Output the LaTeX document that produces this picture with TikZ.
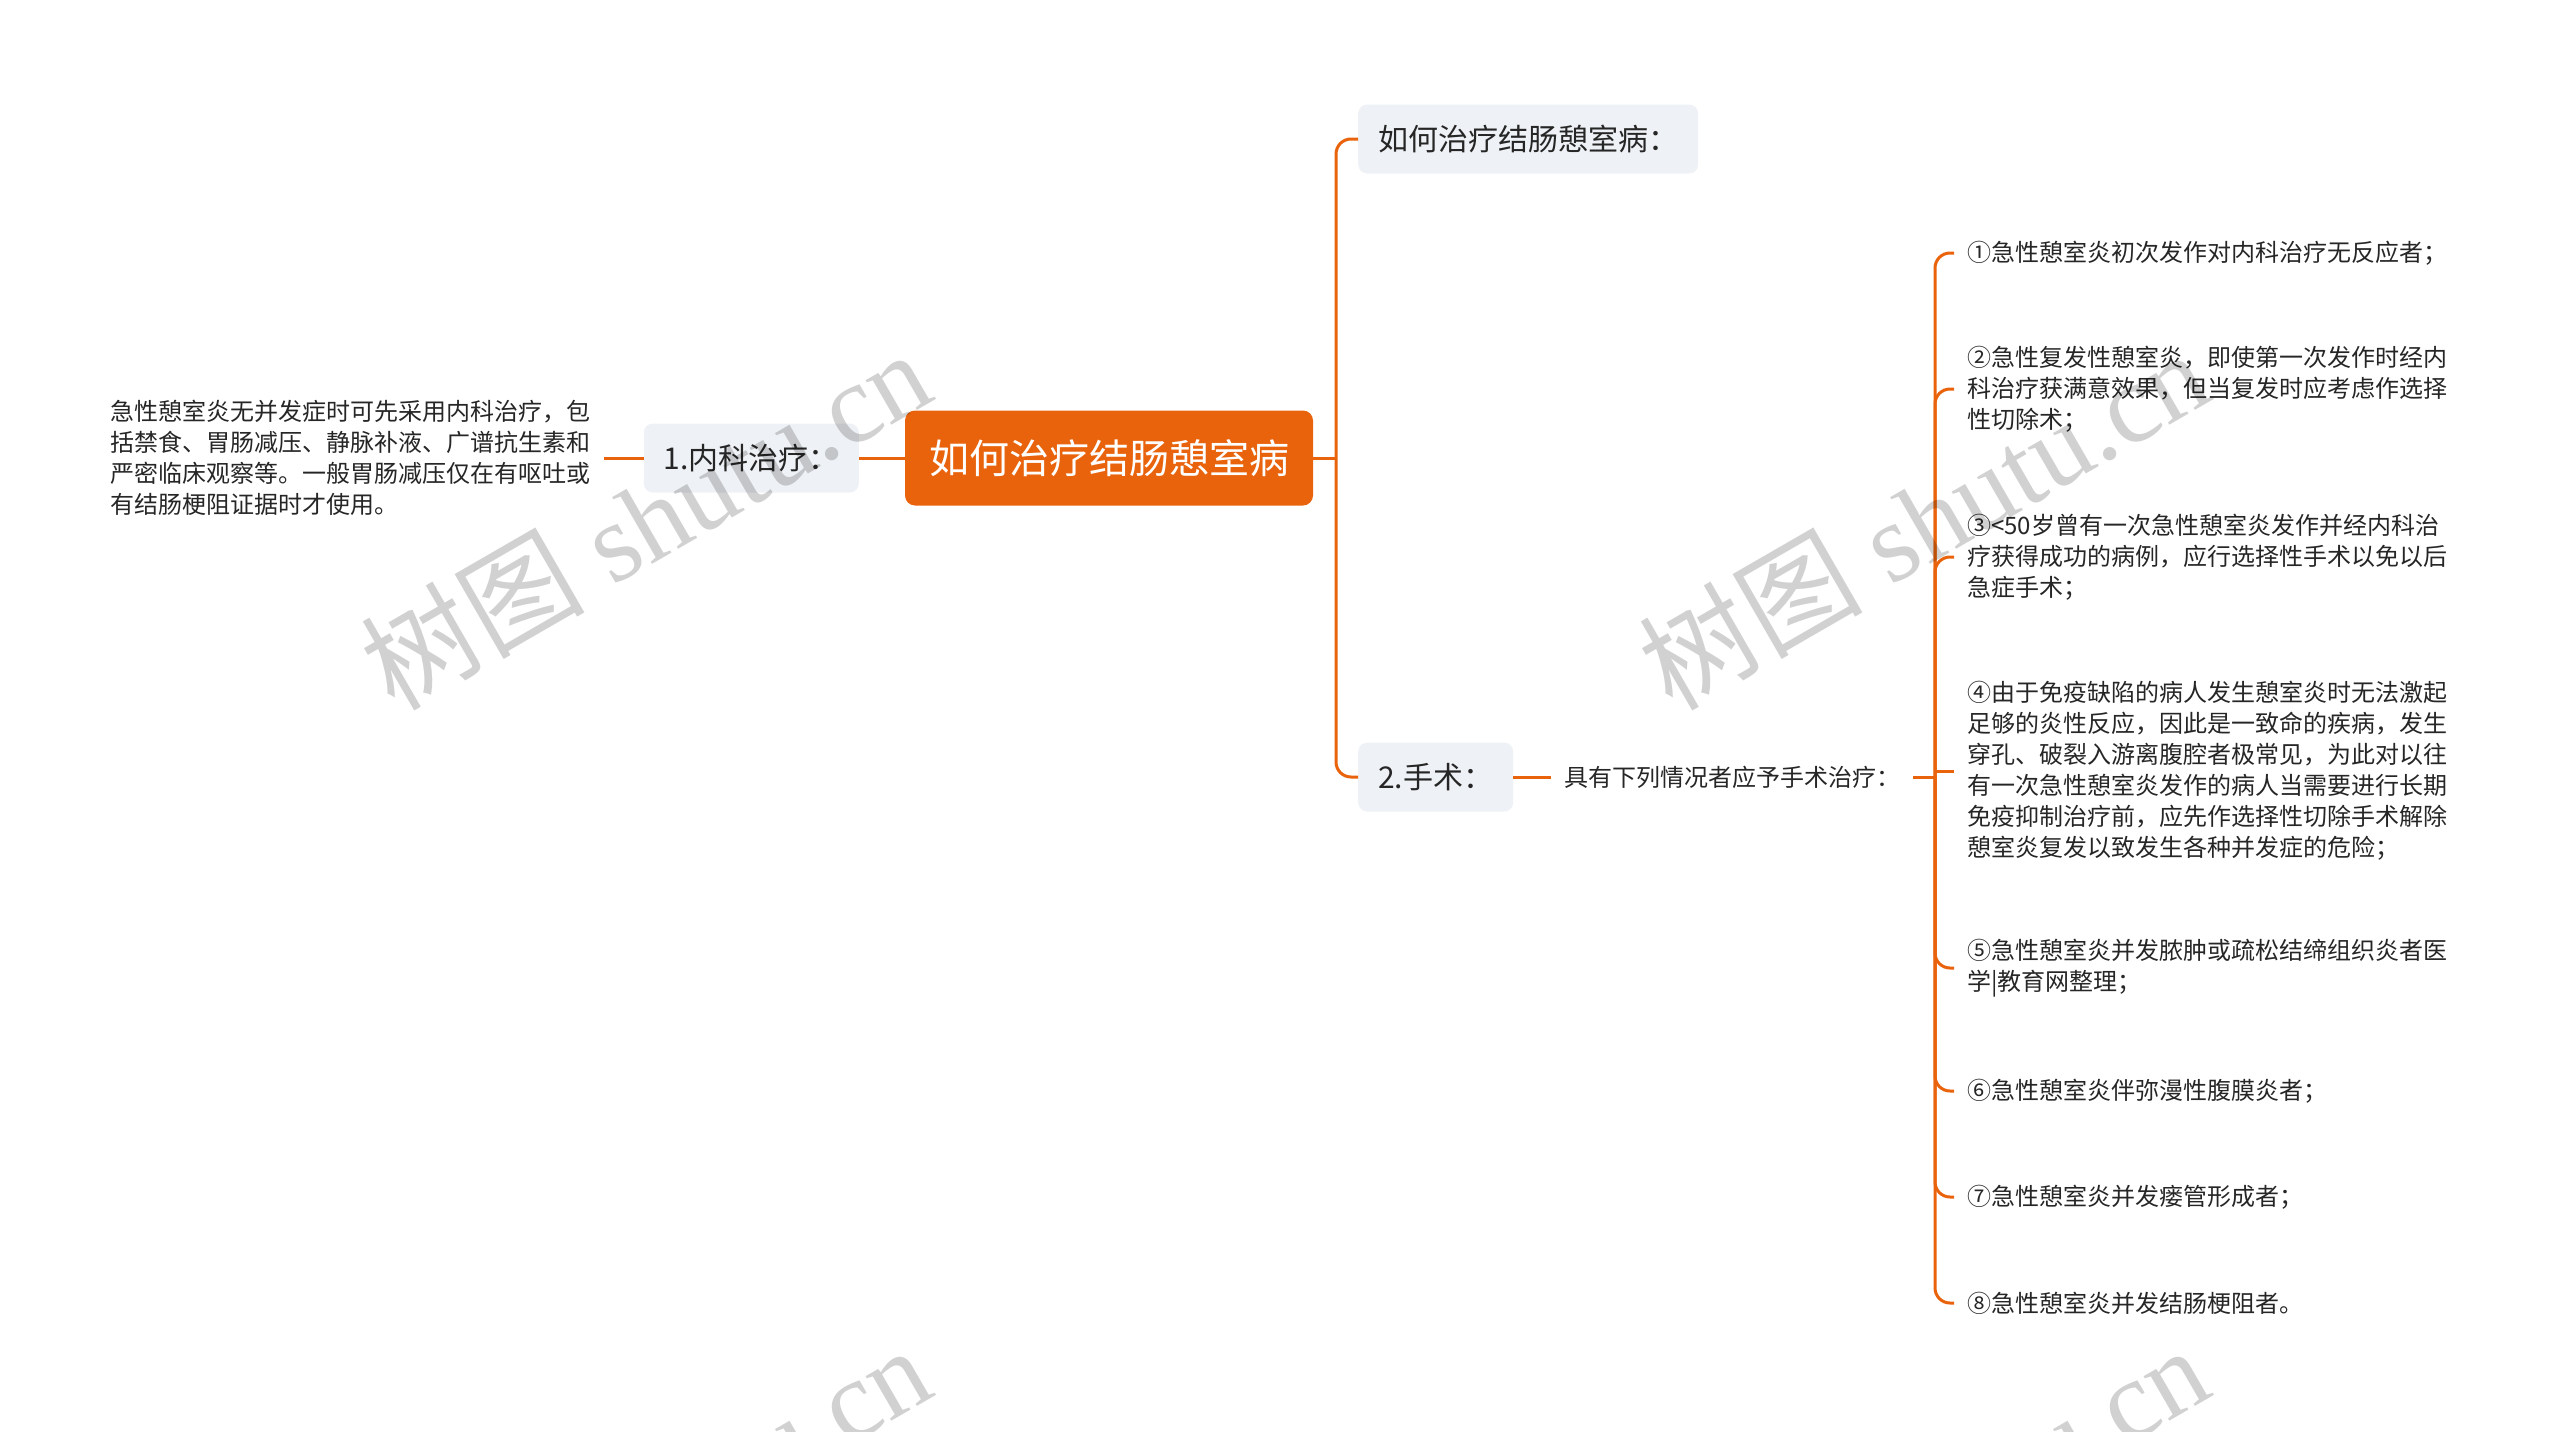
\documentclass[tikz,border=0pt]{standalone}
\usepackage{fontspec}
\setmainfont{Liberation Serif}
\newfontfamily\cjk{Noto Sans CJK SC}
\definecolor{brand}{RGB}{233,99,12}
\definecolor{boxgray}{RGB}{238,241,245}
\definecolor{ink}{RGB}{38,38,38}

\begin{document}
\begin{tikzpicture}[x = 1pt, y = -1pt,
                    link/.style = {draw = brand, line width = 3pt},
                    root/.style = {rectangle, rounded corners = 10pt, fill = brand, text = white,
                                   font = \cjk\fontsize{40}{48}\selectfont, minimum height = 95pt, inner xsep = 24pt},
                    topic/.style = {rectangle, rounded corners = 9pt, fill = boxgray, text = ink,
                                    font = \cjk\fontsize{30}{36}\selectfont, minimum height = 69pt, inner xsep = 20pt},
                    leaf/.style = {align = left, text = ink, font = \cjk\fontsize{24}{31}\selectfont,
                                   inner ysep = 0pt, inner xsep = 13pt},
                    wmark/.style = {rotate = 30, text = black, text opacity = 0.18,
                                    font = \fontsize{112}{112}\selectfont}]
      \useasboundingbox (0, 0) rectangle (2560, 1432);

      \node [root] (root) at (1109, 458) {如何治疗结肠憩室病};
      \node [topic, anchor = east] (med) at (859, 458) {1.内科治疗：};
      \node [leaf, anchor = east] (medtxt) at (604, 458)
            {急性憩室炎无并发症时可先采用内科治疗，包\\括禁食、胃肠减压、静脉补液、广谱抗生素和\\严密临床观察等。一般胃肠减压仅在有呕吐或\\有结肠梗阻证据时才使用。};

      \node [topic, anchor = west] (treat) at (1358, 139) {如何治疗结肠憩室病：};
      \node [topic, anchor = west] (surg) at (1358, 777) {2.手术：};
      \node [leaf, anchor = west] (lead) at (1551, 777) {具有下列情况者应予手术治疗：};

      \node [leaf, anchor = west] (c1) at (1954, 253) {①急性憩室炎初次发作对内科治疗无反应者；};
      \node [leaf, anchor = west] (c2) at (1954, 389)
            {②急性复发性憩室炎，即使第一次发作时经内\\科治疗获满意效果，但当复发时应考虑作选择\\性切除术；};
      \node [leaf, anchor = west] (c3) at (1954, 557)
            {③<50岁曾有一次急性憩室炎发作并经内科治\\疗获得成功的病例，应行选择性手术以免以后\\急症手术；};
      \node [leaf, anchor = west] (c4) at (1954, 771)
            {④由于免疫缺陷的病人发生憩室炎时无法激起\\足够的炎性反应，因此是一致命的疾病，发生\\穿孔、破裂入游离腹腔者极常见，为此对以往\\有一次急性憩室炎发作的病人当需要进行长期\\免疫抑制治疗前，应先作选择性切除手术解除\\憩室炎复发以致发生各种并发症的危险；};
      \node [leaf, anchor = west] (c5) at (1954, 968)
            {⑤急性憩室炎并发脓肿或疏松结缔组织炎者医\\学|教育网整理；};
      \node [leaf, anchor = west] (c6) at (1954, 1091) {⑥急性憩室炎伴弥漫性腹膜炎者；};
      \node [leaf, anchor = west] (c7) at (1954, 1197) {⑦急性憩室炎并发瘘管形成者；};
      \node [leaf, anchor = west] (c8) at (1954, 1303) {⑧急性憩室炎并发结肠梗阻者。};

      \coordinate (j1) at (1336, 458);
      \coordinate (j2) at (1935, 777);

      \draw [link] (root.west) -- (med.east);
      \draw [link] (med.west) -- (medtxt.east);
      \draw [link] (root.east) -- (j1);
      \draw [link, rounded corners = 15pt] (j1) |- (treat.west);
      \draw [link, rounded corners = 15pt] (j1) |- (surg.west);
      \draw [link] (surg.east) -- (lead.west);
      \draw [link] (lead.east) -- (j2);
      \foreach \i in {1, 2, 3, 5, 6, 7, 8}
        \draw [link, rounded corners = 15pt] (j2) |- (c\i.west);
      \draw [link] (c4.west) -- (c4.west -| j2);

      \begin{scope}
        \clip (0, 0) rectangle (2560, 1432);
        \foreach \wx/\wy [count = \k] in {645/519, 1923/519, 645/1515, 1923/1515}
          \node [wmark] (w\k) at (\wx, \wy) {{\cjk 树图} shutu.cn};
      \end{scope}
\end{tikzpicture}
\end{document}
